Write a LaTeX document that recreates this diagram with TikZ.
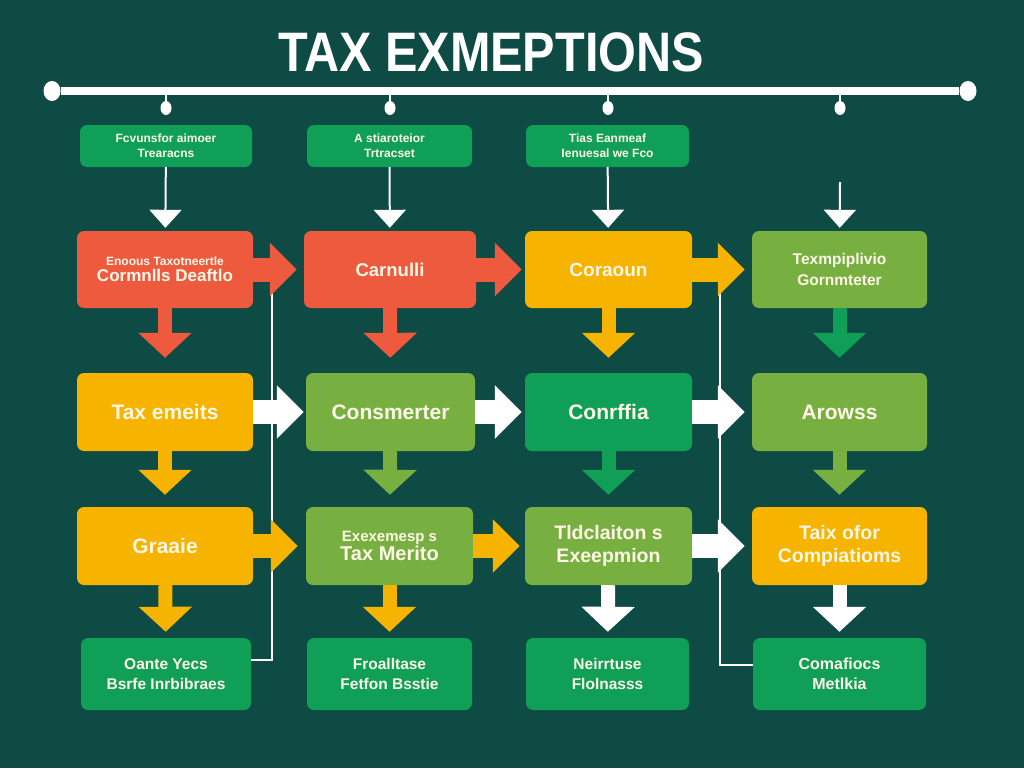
\documentclass[tikz,border=0pt]{standalone}
\usepackage{fontspec}
\setmainfont{Liberation Sans}
\usetikzlibrary{arrows.meta,shapes.geometric}
\definecolor{bg}{HTML}{0E4B45}
\definecolor{cred}{HTML}{EE5A3E}
\definecolor{cyel}{HTML}{F6B300}
\definecolor{clg}{HTML}{77B041}
\definecolor{cgr}{HTML}{0F9F56}
\definecolor{ctxt}{HTML}{FFF8E8}
\tikzset{
  box/.style={rounded corners=7pt, draw=none, text=ctxt, font=\bfseries, align=center, inner sep=2pt},
  blk/.style={line width=14pt, -{Triangle[width=52pt,length=25pt]}},
  hblk/.style={line width=24pt, -{Triangle[width=52pt,length=27pt]}},
  thinarr/.style={white, line width=2pt, -{Triangle[width=32pt,length=18pt]}},
  thinline/.style={white, line width=2pt},
}
\newcommand{\fs}[2]{\fontsize{#1}{#2}\selectfont}
\begin{document}
\begin{tikzpicture}[x=1pt,y=-1pt]
\fill[bg] (0,0) rectangle (1024,768);
\useasboundingbox (0,0) rectangle (1024,768);

% title
\node[text=white, font=\bfseries\fs{54}{60}] (title) at (491,52) {\scalebox{0.9}[1.03]{TAX EXMEPTIONS}};

% timeline
\node[ellipse, fill=white, minimum width=17pt, minimum height=20pt, inner sep=0pt] (tl) at (52,91) {};
\node[ellipse, fill=white, minimum width=17pt, minimum height=20pt, inner sep=0pt] (tr) at (968,91) {};
\draw[white, line width=8pt] (tl) -- (tr);
\foreach \x/\n in {166/1,390/2,608/3,840/4}{
  \node[ellipse, fill=white, minimum width=11pt, minimum height=14pt, inner sep=0pt] (d\n) at (\x,108) {};
  \coordinate (s\n) at (\x,93);
  \draw[white, line width=2pt] (s\n) -- (d\n);
}

% top boxes
\node[box, fill=cgr, minimum width=172pt, minimum height=42pt, font=\bfseries\fs{12}{15}] (t1) at (166,146) {Fcvunsfor aimoer\\Trearacns};
\node[box, fill=cgr, minimum width=165pt, minimum height=42pt, font=\bfseries\fs{12}{15}] (t2) at (389.5,146) {A stiaroteior\\Trtracset};
\node[box, fill=cgr, minimum width=163pt, minimum height=42pt, font=\bfseries\fs{12}{15}] (t3) at (607.5,146) {Tias Eanmeaf\\Ienuesal we Fco};
\coordinate (t4) at (840,182);

% row 1
\node[box, fill=cred, minimum width=176pt, minimum height=77pt] (a1) at (165,269.5) {{\fs{12}{14}Enoous Taxotneertle}\\[3pt]{\fs{17}{20}Cormnlls Deaftlo}};
\node[box, fill=cred, minimum width=172pt, minimum height=77pt, font=\bfseries\fs{18.5}{22}] (a2) at (390,269.5) {Carnulli};
\node[box, fill=cyel, minimum width=167pt, minimum height=77pt, font=\bfseries\fs{19}{22}] (a3) at (608.5,269.5) {Coraoun};
\node[box, fill=clg, minimum width=175pt, minimum height=77pt, font=\bfseries\fs{15.5}{21}] (a4) at (839.5,269.5) {Texmpiplivio\\Gornmteter};

% row 2
\node[box, fill=cyel, minimum width=176pt, minimum height=78pt, font=\bfseries\fs{21}{24}] (b1) at (165,412) {Tax emeits};
\node[box, fill=clg, minimum width=169pt, minimum height=78pt, font=\bfseries\fs{21}{24}] (b2) at (390.5,412) {Consmerter};
\node[box, fill=cgr, minimum width=167pt, minimum height=78pt, font=\bfseries\fs{21}{24}] (b3) at (608.5,412) {Conrffia};
\node[box, fill=clg, minimum width=175pt, minimum height=78pt, font=\bfseries\fs{21}{24}] (b4) at (839.5,412) {Arowss};

% row 3
\node[box, fill=cyel, minimum width=176pt, minimum height=78pt, font=\bfseries\fs{21}{24}] (c1) at (165,546) {Graaie};
\node[box, fill=clg, minimum width=167pt, minimum height=78pt] (c2) at (389.5,546) {{\fs{15}{20}Exexemesp s}\\{\fs{20}{23}Tax Merito}};
\node[box, fill=clg, minimum width=167pt, minimum height=78pt, font=\bfseries\fs{19.5}{23}] (c3) at (608.5,546) {Tldclaiton s\\Exeepmion};
\node[box, fill=cyel, minimum width=175pt, minimum height=78pt, font=\bfseries\fs{19.5}{23}] (c4) at (839.5,546) {Taix ofor\\Compiatioms};

% row 4
\node[box, fill=cgr, minimum width=170pt, minimum height=72pt, font=\bfseries\fs{15.5}{20}] (e1) at (166,674) {Oante Yecs\\Bsrfe Inrbibraes};
\node[box, fill=cgr, minimum width=165pt, minimum height=72pt, font=\bfseries\fs{15.5}{20}] (e2) at (389.5,674) {Froalltase\\Fetfon Bsstie};
\node[box, fill=cgr, minimum width=163pt, minimum height=72pt, font=\bfseries\fs{15.5}{20}] (e3) at (607.5,674) {Neirrtuse\\Flolnasss};
\node[box, fill=cgr, minimum width=173pt, minimum height=72pt, font=\bfseries\fs{16}{20}] (e4) at (839.5,674) {Comafiocs\\Metlkia};

% thin vertical connectors
\coordinate (vl) at (272,290);
\coordinate (vr) at (720,292);
\draw[thinline] (vl) |- ([yshift=14pt]e1.east);
\draw[thinline] (vr) |- ([yshift=9pt]e4.west);

% thin arrows from top
\draw[thinarr, shorten >=3pt] (t1) -- (a1);
\draw[thinarr, shorten >=3pt] (t2) -- (a2);
\draw[thinarr, shorten >=3pt] (t3) -- (a3);
\draw[thinarr, shorten >=3pt] (t4) -- (a4);

% horizontal block arrows
\draw[hblk, cred, shorten >=7pt] (a1) -- (a2);
\draw[hblk, cred, shorten >=3pt] (a2) -- (a3);
\draw[hblk, cyel, shorten >=7pt] (a3) -- (a4);
\draw[hblk, white, shorten >=2pt] (b1) -- (b2);
\draw[hblk, white, shorten >=3pt] (b2) -- (b3);
\draw[hblk, white, shorten >=7pt] (b3) -- (b4);
\draw[hblk, cyel, shorten >=8pt] (c1) -- (c2);
\draw[hblk, cyel, shorten >=5pt] (c2) -- (c3);
\draw[hblk, white, shorten >=7pt] (c3) -- (c4);

% down block arrows
\draw[blk, cred, shorten >=15pt] (a1) -- (b1);
\draw[blk, cred, shorten >=15pt] (a2) -- (b2);
\draw[blk, cyel, shorten >=15pt] (a3) -- (b3);
\draw[blk, cgr, shorten >=15pt] (a4) -- (b4);
\draw[blk, cyel, shorten >=12pt] (b1) -- (c1);
\draw[blk, clg, shorten >=12pt] (b2) -- (c2);
\draw[blk, cgr, shorten >=12pt] (b3) -- (c3);
\draw[blk, clg, shorten >=12pt] (b4) -- (c4);
\draw[blk, cyel, shorten >=6pt] (c1) -- (e1);
\draw[blk, cyel, shorten >=6pt] (c2) -- (e2);
\draw[blk, white, shorten >=6pt] (c3) -- (e3);
\draw[blk, white, shorten >=6pt] (c4) -- (e4);
\end{tikzpicture}
\end{document}
